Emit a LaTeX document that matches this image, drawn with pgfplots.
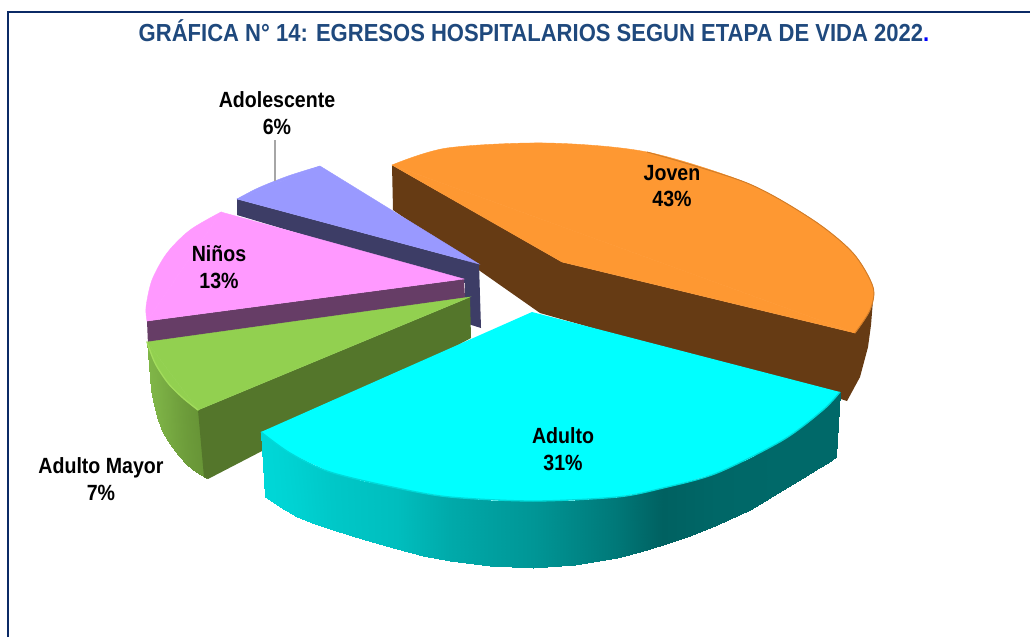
\documentclass[border=0pt]{standalone}
\usepackage{pgfplots}
\pgfplotsset{compat=1.18}
\usepackage{graphicx}
\usepackage{fontspec}
\setmainfont{Liberation Sans}
\definecolor{titleblue}{HTML}{1F497D}
\definecolor{framec}{HTML}{0B2A66}
\definecolor{orangetop}{HTML}{FE9832}
\definecolor{orangeside}{HTML}{663B14}
\definecolor{bluetop}{HTML}{9999FF}
\definecolor{blueside}{HTML}{3D3D66}
\definecolor{pinktop}{HTML}{FF99FF}
\definecolor{pinkside}{HTML}{663D66}
\definecolor{greentop}{HTML}{92D050}
\definecolor{greenside}{HTML}{54762B}
\definecolor{greenrim}{HTML}{A2DC5C}
\definecolor{cyantop}{HTML}{00FFFF}
\newcommand{\sq}[1]{\scalebox{.89}[1]{#1}}
\tikzset{lbl/.style={font=\fontsize{16.5}{20}\selectfont\bfseries, align=center, text=black, inner sep=0pt}}
\begin{document}
\begin{tikzpicture}
\begin{axis}[
  scale only axis, width=772.5pt, height=477.75pt,
  xmin=0, xmax=1030, ymin=0, ymax=637, y dir=reverse,
  hide axis, point meta min=0, point meta max=255,
]
\path (axis cs:0,0) rectangle (axis cs:1030,637);
% frame
\addplot[framec, line width=2pt, forget plot] coordinates {(8,637) (8,12) (1030,12)};

% Joven
\addplot[fill=orangeside, draw=none] coordinates {
  (392,165) (562,262) (855,333) (873,300) (871,325) (868,347) (860,377) (847,401) (838,398) (540,313) (393,210)
} -- cycle;
\addplot[fill=orangetop, draw=orangetop, line width=.3pt] coordinates {(392,165) (562,262) (855,333)} -- cycle;
\addplot[smooth, fill=orangetop, draw=orangetop, line width=.3pt] coordinates {
  (392,165) (447,148) (547,143) (647,152) (747,183) (813,220) (853,253) (873,287) (870,310) (855,333)
} -- cycle;
\addplot[smooth, color=orangetop!70!orangeside, line width=.7pt] coordinates {
  (647,152) (747,183) (813,220) (853,253) (873,287) (870,310) (855,333)
};

% Adolescente
\addplot[fill=blueside, draw=none] coordinates {
  (237,199) (479,264) (481,328) (465,323) (465,283) (237,215)
} -- cycle;
\addplot[fill=bluetop, draw=bluetop, line width=.3pt] coordinates {(237,199) (320,166) (479,264)} -- cycle;
\addplot[smooth, fill=bluetop, draw=bluetop, line width=.3pt] coordinates {(237,199) (258,188) (288,176) (320,166)} -- cycle;
\addplot[color=gray!70, line width=0.8pt] coordinates {(275,140) (275,181)};

% Ninos
\addplot[fill=pinkside, draw=none] coordinates {
  (147,321) (464,279) (465,298) (148,345)
} -- cycle;
\addplot[fill=pinktop, draw=pinktop, line width=.3pt] coordinates {(221,212) (147,321) (464,279)} -- cycle;
\addplot[smooth, fill=pinktop, draw=pinktop, line width=.3pt] coordinates {
  (221,212) (190,230) (167,253) (152,280) (146,307) (147,321)
} -- cycle;

% Adulto Mayor
\addplot[patch, patch type=rectangle, shader=interp, point meta=explicit,
  colormap={gs}{rgb255=(90,130,45) rgb255=(128,182,72)}] coordinates {
(147,342)[255] (151,390)[255] (154,405)[245] (150,353)[245]
(150,353)[245] (154,405)[245] (158,420)[235] (155,363)[235]
(155,363)[235] (158,420)[235] (163,433)[215] (161,373)[215]
(161,373)[215] (163,433)[215] (170,444)[190] (168,383)[190]
(168,383)[190] (170,444)[190] (178,455)[160] (175,391)[160]
(175,391)[160] (178,455)[160] (187,465)[130] (183,398)[130]
(183,398)[130] (187,465)[130] (196,472)[110] (190,404)[110]
(190,404)[110] (196,472)[110] (206,478)[90] (198,410)[90]
};
\addplot[fill=greenside, draw=none] coordinates {
  (198,410) (470,297) (471,338) (262,451) (208,479) (204,477)
} -- cycle;
\addplot[fill=greentop, draw=greentop, line width=.3pt] coordinates {(147,342) (470,297) (198,410)} -- cycle;
\addplot[smooth, fill=greentop, draw=greentop, line width=.3pt] coordinates {
  (147,342) (155,363) (168,383) (183,398) (198,410)
} -- cycle;
\addplot[smooth, color=greenrim, line width=1pt] coordinates {
  (147,342) (155,363) (168,383) (183,398) (198,410)
};

% Adulto
\addplot[patch, patch type=rectangle, shader=interp, point meta=explicit,
  colormap={cs}{rgb255=(0,0,0) rgb255=(0,255,255)}] coordinates {
(261,432)[215] (265,497)[215] (280,507)[213] (275,443)[213]
(275,443)[213] (280,507)[213] (297,517)[210] (290,453)[210]
(290,453)[210] (297,517)[210] (315,524)[205] (310,463)[205]
(310,463)[205] (315,524)[205] (333,530)[200] (330,472)[200]
(330,472)[200] (333,530)[200] (365,540)[195] (363,481)[195]
(363,481)[195] (365,540)[195] (397,549)[190] (397,488)[190]
(397,488)[190] (397,549)[190] (423,556)[180] (423,493)[180]
(423,493)[180] (423,556)[180] (450,561)[170] (450,497)[170]
(450,497)[170] (450,561)[170] (490,566)[160] (490,500)[160]
(490,500)[160] (490,566)[160] (533,568)[150] (533,501)[150]
(533,501)[150] (533,568)[150] (575,565)[135] (575,500)[135]
(575,500)[135] (575,565)[135] (617,558)[120] (617,497)[120]
(617,497)[120] (617,558)[120] (640,552)[108] (640,493)[108]
(640,493)[108] (640,552)[108] (663,545)[97] (663,488)[97]
(663,488)[97] (663,545)[97] (690,536)[100] (690,481)[100]
(690,481)[100] (690,536)[100] (717,525)[103] (717,473)[103]
(717,473)[103] (717,525)[103] (750,510)[104] (750,458)[104]
(750,458)[104] (750,510)[104] (783,490)[105] (783,440)[105]
(783,440)[105] (783,490)[105] (803,478)[105] (803,426)[105]
(803,426)[105] (803,478)[105] (819,468)[105] (823,410)[105]
(823,410)[105] (819,468)[105] (828,463)[105] (833,400)[105]
(833,400)[105] (828,463)[105] (836,457)[105] (840,392)[105]
};
\addplot[fill=cyantop, draw=none] coordinates {
  (532,312) (840,392) (833,400) (823,410) (803,426) (783,440) (750,458) (717,473) (690,481) (663,488) (640,493) (617,497)
  (575,500) (533,501) (490,500) (450,497) (423,493) (397,488) (363,481) (330,472) (310,463) (290,453) (275,443) (261,432)
} -- cycle;
\addplot[smooth, color=cyantop!85!black, line width=1pt] coordinates {
  (840,392) (823,410) (783,440) (717,473) (663,488) (617,497) (533,501)
  (450,497) (397,488) (330,472) (290,453) (261,432)
};

% text
\node[font=\fontsize{18.5}{20}\selectfont\bfseries, text=titleblue, inner sep=0pt] at (axis cs:534,31)
  {\scalebox{.893}[1]{GRÁFICA N° 14: EGRESOS HOSPITALARIOS SEGUN ETAPA DE VIDA 2022\textcolor{blue}{.}}};
\node[lbl] at (axis cs:277,113) {\sq{Adolescente}\\\sq{6\%}};
\node[lbl] at (axis cs:672,186) {\sq{Joven}\\\sq{43\%}};
\node[lbl] at (axis cs:219,267) {\sq{Niños}\\\sq{13\%}};
\node[lbl] at (axis cs:563,449) {\sq{Adulto}\\\sq{31\%}};
\node[lbl] at (axis cs:101,479) {\sq{Adulto Mayor}\\\sq{7\%}};
\end{axis}
\end{tikzpicture}
\end{document}
